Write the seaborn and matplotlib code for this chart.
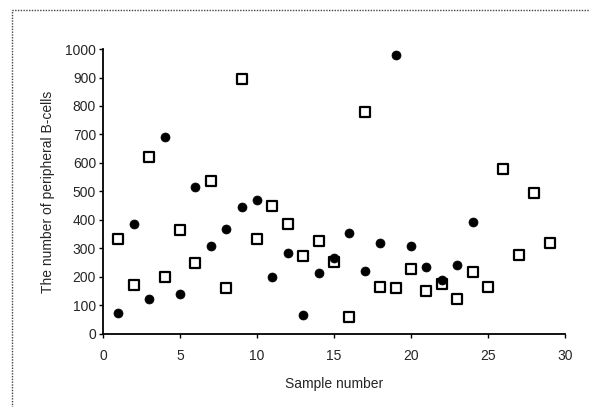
import numpy as np
import pandas as pd
import matplotlib
matplotlib.use("Agg")
import matplotlib.pyplot as plt
import seaborn as sns
from matplotlib.patches import Rectangle

# data
samples_filled = list(range(1, 25))
cells_filled = [72, 385, 123, 690, 140, 515, 310, 370, 446, 470, 200, 285,
                68, 215, 265, 355, 220, 320, 980, 310, 235, 190, 242, 393]

samples_open = list(range(1, 30))
cells_open = [333, 172, 620, 200, 365, 250, 537, 160, 895, 335, 449, 387,
              275, 325, 252, 60, 780, 165, 160, 228, 152, 175, 123, 218,
              166, 578, 277, 494, 318]

df_filled = pd.DataFrame({"sample": samples_filled, "cells": cells_filled})
df_open = pd.DataFrame({"sample": samples_open, "cells": cells_open})

sns.set_theme(style="ticks")
plt.rcParams['font.family'] = ['Liberation Sans', 'DejaVu Sans']

fig = plt.figure(figsize=(5.9, 4.07), dpi=100)
ax = fig.add_axes([0.1746, 0.1794, 0.783, 0.7002])

# outer chart border (dotted)
fig.patches.append(Rectangle((12 / 590, -0.05), 1.1, 1 - 10 / 407 + 0.05,
                             transform=fig.transFigure, fill=False,
                             edgecolor="#444444", linestyle=(0, (1, 1)),
                             linewidth=1.0, zorder=0))

sns.scatterplot(data=df_open, x="sample", y="cells", ax=ax, marker="s",
                s=50, facecolor="white", edgecolor="black", linewidth=1.6,
                zorder=3)
sns.scatterplot(data=df_filled, x="sample", y="cells", ax=ax, marker="o",
                s=42, color="black", edgecolor="black", linewidth=0.5,
                zorder=4)

ax.set_xlim(0, 30)
ax.set_ylim(0, 1000)
ax.set_xticks([0, 5, 10, 15, 20, 25, 30])
ax.set_yticks(np.arange(0, 1001, 100))
ax.set_xlabel("Sample number", fontsize=10, labelpad=10)
ax.set_ylabel("The number of peripheral B-cells", fontsize=10, labelpad=7)
ax.tick_params(axis="both", labelsize=10, length=3, width=1, color="black")
ax.tick_params(axis="x", pad=8)
ax.tick_params(axis="y", pad=2)
for side in ["top", "right"]:
    ax.spines[side].set_visible(False)
for side in ["left", "bottom"]:
    ax.spines[side].set_color("black")
    ax.spines[side].set_linewidth(1.3)
ax.set_facecolor("white")
fig.patch.set_facecolor("white")

fig.savefig("out.png", dpi=100)
